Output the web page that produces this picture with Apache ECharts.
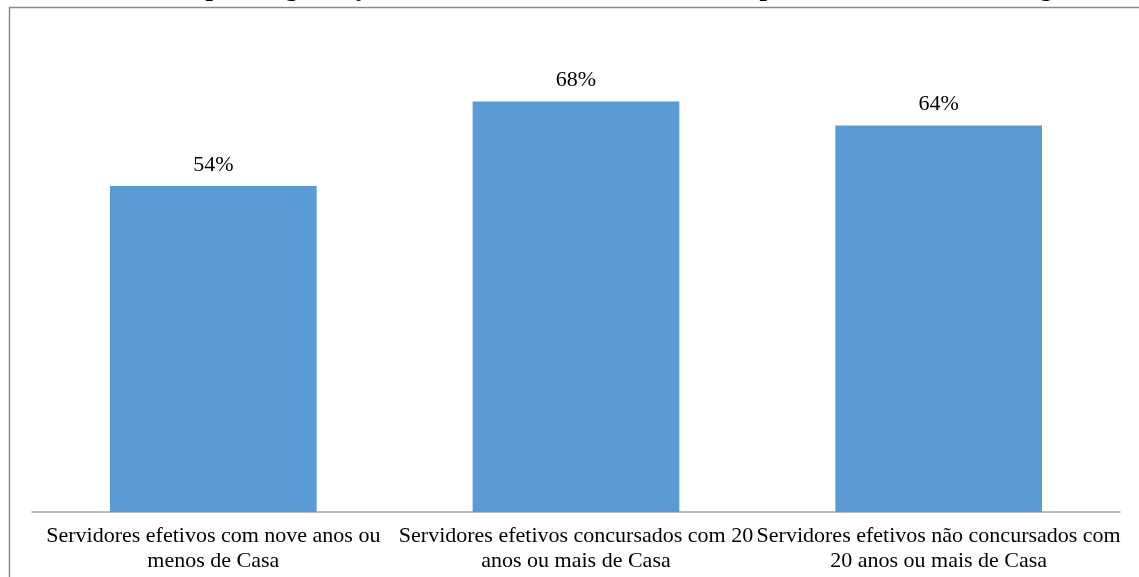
<!DOCTYPE html>
<html>
<head>
<meta charset="utf-8">
<script src="https://cdn.jsdelivr.net/npm/echarts@6/dist/echarts.min.js"></script>
<style>
  html, body { margin: 0; padding: 0; background: #ffffff; }
  #chart { width: 1139px; height: 577px; }
</style>
</head>
<body>
<div id="chart"></div>
<script>
// Share of each group of servidores, in percent
const titleText = 'Gráfico 11 – Tipo e Segurança de acesso ao conhecimento x Tempo de Casa e forma de ingresso';
const categories = [
  'Servidores efetivos com nove anos ou\nmenos de Casa',
  'Servidores efetivos concursados com 20\nanos ou mais de Casa',
  'Servidores efetivos não concursados com\n20 anos ou mais de Casa'
];
const values = [54, 68, 64];

const serif = '"Liberation Serif", "Times New Roman", serif';
const chart = echarts.init(document.getElementById('chart'), null, { renderer: 'canvas' });

chart.setOption({
  backgroundColor: '#ffffff',
  animation: false,
  title: {
    text: titleText,
    left: 36,
    top: -25,
    padding: 0,
    textStyle: { fontFamily: serif, fontWeight: 'bold', fontSize: 26.5, color: '#000000' }
  },
  graphic: [{
    type: 'rect',
    shape: { x: 9.5, y: 7.5, width: 1200, height: 700 },
    style: { fill: 'none', stroke: '#8a8a8a', lineWidth: 1.5 },
    silent: true,
    z: -1
  }],
  grid: { left: 32, right: 19, top: 29, bottom: 65, containLabel: false },
  xAxis: {
    type: 'category',
    data: categories,
    axisTick: { show: false },
    axisLine: { show: true, lineStyle: { color: '#a6a6a6', width: 1.5 } },
    axisLabel: {
      interval: 0,
      margin: 12,
      fontFamily: serif,
      fontSize: 22,
      lineHeight: 25,
      color: '#000000',
      align: 'center'
    }
  },
  yAxis: {
    type: 'value',
    min: 0,
    max: 80,
    show: false,
    splitLine: { show: false }
  },
  series: [{
    type: 'bar',
    data: values,
    barWidth: '57%',
    itemStyle: { color: '#5b9bd5' },
    label: {
      show: true,
      position: 'top',
      distance: 10,
      formatter: p => p.value + '%',
      fontFamily: serif,
      fontSize: 22,
      color: '#000000'
    }
  }]
});
</script>
</body>
</html>
